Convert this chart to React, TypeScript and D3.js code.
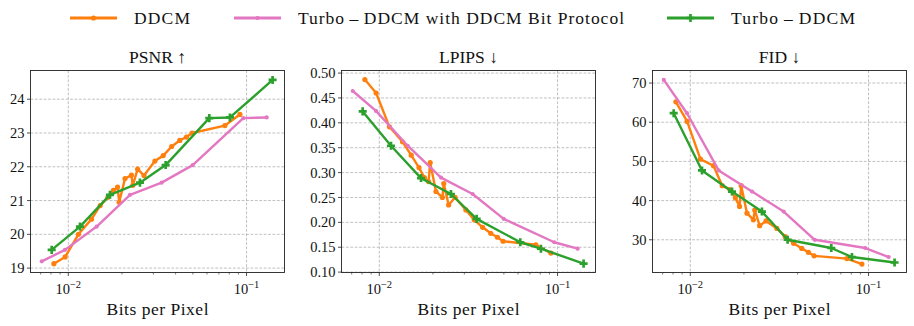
import React from "react";
import * as d3 from "d3";

// bits per pixel for each method
const ddcmBpp = [0.0083, 0.0096, 0.0114, 0.0135, 0.0151, 0.0167, 0.0179, 0.0189, 0.0193, 0.0208, 0.0226, 0.023, 0.0245, 0.0266, 0.0306, 0.0341, 0.038, 0.0422, 0.046, 0.0495, 0.0756, 0.0918];
const protoBpp = [0.0071, 0.00958, 0.01443, 0.0222, 0.0334, 0.0499, 0.0959, 0.1297];
const turboBpp = [0.00807, 0.01163, 0.01714, 0.02523, 0.03517, 0.0618, 0.0807, 0.14];

// PSNR
const ddcmPsnr = [19.13, 19.33, 20.0, 20.45, 20.85, 21.1, 21.3, 21.4, 20.95, 21.65, 21.75, 21.45, 21.93, 21.74, 22.17, 22.33, 22.6, 22.78, 22.88, 23.0, 23.22, 23.55];
const protoPsnr = [19.2, 19.54, 20.23, 21.17, 21.53, 22.05, 23.44, 23.46];
const turboPsnr = [19.54, 20.23, 21.17, 21.53, 22.05, 23.44, 23.46, 24.57];

// LPIPS
const ddcmLpips = [0.487, 0.46, 0.392, 0.362, 0.335, 0.31, 0.29, 0.282, 0.32, 0.262, 0.25, 0.278, 0.235, 0.25, 0.225, 0.205, 0.19, 0.178, 0.17, 0.162, 0.155, 0.138];
const protoLpips = [0.464, 0.424, 0.354, 0.29, 0.257, 0.207, 0.16, 0.147];
const turboLpips = [0.423, 0.354, 0.289, 0.257, 0.207, 0.16, 0.147, 0.117];

// FID
const ddcmFid = [65.2, 60.2, 50.6, 48.9, 43.8, 42.8, 40.7, 38.5, 43.8, 36.8, 35.1, 37.6, 33.6, 34.8, 32.9, 30.8, 29.1, 27.8, 26.8, 25.9, 25.2, 23.8];
const protoFid = [70.8, 62.3, 47.7, 42.3, 37.2, 30.0, 27.9, 25.6];
const turboFid = [62.3, 47.7, 42.3, 37.2, 30.0, 27.9, 25.6, 24.2];

const seriesNames = ["DDCM", "Turbo\u2009\u2013\u2009DDCM with DDCM Bit Protocol", "Turbo\u2009\u2013\u2009DDCM"];
const colors = ["#ff7f0e", "#e377c2", "#2ca02c"];

const panelTitles = ["PSNR \u2191", "LPIPS \u2193", "FID \u2193"];
const yDomains: [number, number][] = [[18.87, 24.85], [0.0992, 0.5052], [21.65, 73.2]];
const yTicks = [[19, 20, 21, 22, 23, 24], [0.1, 0.15, 0.2, 0.25, 0.3, 0.35, 0.4, 0.45, 0.5], [30, 40, 50, 60, 70]];
const yFormats = [d3.format("d"), d3.format(".2f"), d3.format("d")];
const xMajor = [0.01, 0.1];
const xMinor = [0.007, 0.008, 0.009, 0.02, 0.03, 0.04, 0.05, 0.06, 0.07, 0.08, 0.09];

const panelData = [
  [ddcmPsnr, protoPsnr, turboPsnr],
  [ddcmLpips, protoLpips, turboLpips],
  [ddcmFid, protoFid, turboFid],
];
const bppSets = [ddcmBpp, protoBpp, turboBpp];

const font = "'Liberation Serif', 'DejaVu Serif', serif";
const lefts = [30.5, 341.5, 652.5];
const W = 254;
const top = 70.5;
const bottom = 272.5;

function Marker({ kind, x, y, color }: { kind: number; x: number; y: number; color: string }) {
  if (kind === 2) {
    const p = d3.symbol(d3.symbolCross, 36)();
    return <path d={p || ""} transform={`translate(${x},${y})`} fill={color} />;
  }
  return <circle cx={x} cy={y} r={kind === 0 ? 2.6 : 2.1} fill={color} />;
}

function Panel({ idx }: { idx: number }) {
  const left = lefts[idx];
  const x = d3.scaleLog().domain([0.006138, 0.1633]).range([left, left + W]);
  const y = d3.scaleLinear().domain(yDomains[idx]).range([bottom, top]);
  const line = d3.line<[number, number]>().x(d => x(d[0])).y(d => y(d[1]));
  const fmt = yFormats[idx];
  return (
    <g>
      {/* grid */}
      {xMajor.map(t => (
        <line key={"gx" + t} x1={x(t)} x2={x(t)} y1={top} y2={bottom} stroke="#b0b0b0" strokeWidth={0.8} strokeDasharray="2.8,1.6" />
      ))}
      {yTicks[idx].map(t => (
        <line key={"gy" + t} x1={left} x2={left + W} y1={y(t)} y2={y(t)} stroke="#b0b0b0" strokeWidth={0.8} strokeDasharray="2.8,1.6" />
      ))}
      {/* series */}
      {[0, 1, 2].map(s => {
        const pts: [number, number][] = bppSets[s].map((b, i) => [b, panelData[idx][s][i]]);
        return (
          <g key={"s" + s}>
            <path d={line(pts) || ""} fill="none" stroke={colors[s]} strokeWidth={2.4} strokeLinejoin="round" />
            {pts.map((p, i) => (
              <Marker key={i} kind={s} x={x(p[0])} y={y(p[1])} color={colors[s]} />
            ))}
          </g>
        );
      })}
      {/* frame */}
      <rect x={left} y={top} width={W} height={bottom - top} fill="none" stroke="#222" strokeWidth={0.9} />
      {/* y ticks */}
      {yTicks[idx].map(t => (
        <g key={"yt" + t}>
          <line x1={left - 3.5} x2={left} y1={y(t)} y2={y(t)} stroke="#222" strokeWidth={0.8} />
          <text x={left - 6} y={y(t)} dy="0.35em" textAnchor="end" fontSize={14.5} fontFamily={font} fill="#111">{fmt(t)}</text>
        </g>
      ))}
      {/* x ticks */}
      {xMinor.map(t => (
        <line key={"xm" + t} x1={x(t)} x2={x(t)} y1={bottom} y2={bottom + 2} stroke="#222" strokeWidth={0.6} />
      ))}
      {xMajor.map((t, i) => (
        <g key={"xt" + t}>
          <line x1={x(t)} x2={x(t)} y1={bottom} y2={bottom + 3.5} stroke="#222" strokeWidth={0.8} />
          <text x={x(t)} y={bottom + 21} textAnchor="middle" fontSize={14.5} fontFamily={font} fill="#111">
            10<tspan dy={-6} fontSize={10.5}>{i === 0 ? "\u22122" : "\u22121"}</tspan>
          </text>
        </g>
      ))}
      <text x={left + W / 2} y={bottom + 42} textAnchor="middle" fontSize={17.5} fontFamily={font} fill="#111" textLength={102} lengthAdjust="spacing">Bits per Pixel</text>
      <text x={left + W / 2} y={top - 8} textAnchor="middle" fontSize={17.5} fontFamily={font} fill="#111">{panelTitles[idx]}</text>
    </g>
  );
}

const legendX = [70, 234, 667];
const legendTextLen = [56, 326, 124];

export default function App() {
  return (
    <svg width={914} height={326} style={{ position: "absolute", left: 0, top: 0, background: "#fff" }}>
      {[0, 1, 2].map(i => (
        <g key={"lg" + i}>
          <line x1={legendX[i]} x2={legendX[i] + 47} y1={18} y2={18} stroke={colors[i]} strokeWidth={3.2} />
          <Marker kind={i} x={legendX[i] + 23.5} y={18} color={colors[i]} />
          <text x={legendX[i] + 64} y={24} fontSize={17.5} fontFamily={font} fill="#111" textLength={legendTextLen[i]} lengthAdjust="spacing">{seriesNames[i]}</text>
        </g>
      ))}
      {[0, 1, 2].map(i => <Panel key={i} idx={i} />)}
    </svg>
  );
}
